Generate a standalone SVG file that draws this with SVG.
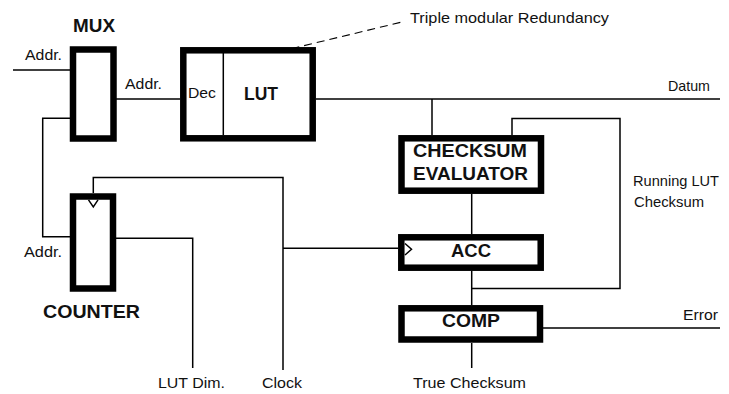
<svg xmlns="http://www.w3.org/2000/svg" width="729" height="394" viewBox="0 0 729 394">
<defs>
<style>
.box{fill:#fff;stroke:#000;stroke-width:6.5}
.ln{fill:none;stroke:#000;stroke-width:1.5}
.dash{fill:none;stroke:#000;stroke-width:1.1;stroke-dasharray:8 5}
.t{font-family:"Liberation Sans",Arial,sans-serif;font-size:15px;fill:#111}
.b{font-family:"Liberation Sans",Arial,sans-serif;font-size:19px;font-weight:bold;fill:#111}
</style>
</defs>
<rect width="729" height="394" fill="#fff"/>
<g id="connectors">
<path class="ln" d="M13,70 H70"/>
<path class="ln" d="M116,99 H180"/>
<path class="ln" d="M316,99 H720"/>
<path class="ln" d="M432,99 V135"/>
<path class="ln" d="M512,135 V118.5 H620 V288.5 H471.7"/>
<path class="ln" d="M471.7,194 V234"/>
<path class="ln" d="M471.7,271 V305"/>
<path class="ln" d="M471.7,343 V368"/>
<path class="ln" d="M543,328 H720"/>
<path class="ln" d="M93.3,193 V177.5 H283 V370"/>
<path class="ln" d="M283,248.3 H398"/>
<path class="ln" d="M70,118.3 H42.7 V236.7 H70"/>
<path class="ln" d="M116,238.3 H192.7 V368"/>
<path class="dash" d="M203,70 L402,22"/>
</g>
<g id="mux">
<rect class="box" x="73" y="49.5" width="40.5" height="89"/>
<text class="b" x="73" y="32" font-size="20" textLength="42" lengthAdjust="spacingAndGlyphs">MUX</text>
</g>
<g id="lut">
<rect class="box" x="183.3" y="50.3" width="129.4" height="88"/>
<path class="ln" d="M223.3,53 V135"/>
<text class="t" x="188" y="98" textLength="28" lengthAdjust="spacingAndGlyphs">Dec</text>
<text class="b" x="244" y="100" font-size="20" textLength="34" lengthAdjust="spacingAndGlyphs">LUT</text>
</g>
<g id="counter">
<rect class="box" x="73" y="196.5" width="40" height="92"/>
<path class="ln" d="M88.5,199.8 L93.3,207 L98,199.8"/>
<text class="b" x="43" y="318" textLength="97" lengthAdjust="spacingAndGlyphs">COUNTER</text>
</g>
<g id="checksum-evaluator">
<rect class="box" x="401.5" y="138.3" width="139.5" height="52.4"/>
<text class="b" x="413" y="157" font-size="20" textLength="114" lengthAdjust="spacingAndGlyphs">CHECKSUM</text>
<text class="b" x="413" y="180" font-size="20" textLength="115" lengthAdjust="spacingAndGlyphs">EVALUATOR</text>
</g>
<g id="acc">
<rect class="box" x="401.3" y="237.3" width="139.4" height="30.4"/>
<path class="ln" d="M405,243.5 L411.5,249.3 L405,255"/>
<text class="b" x="451" y="257" textLength="40" lengthAdjust="spacingAndGlyphs">ACC</text>
</g>
<g id="comp">
<rect class="box" x="401.5" y="308.3" width="138.5" height="31.2"/>
<text class="b" x="442" y="327" textLength="58" lengthAdjust="spacingAndGlyphs">COMP</text>
</g>
<g id="labels">
<text class="t" x="25" y="60" textLength="37" lengthAdjust="spacingAndGlyphs">Addr.</text>
<text class="t" x="125" y="89" textLength="37" lengthAdjust="spacingAndGlyphs">Addr.</text>
<text class="t" x="410" y="22.5" textLength="199" lengthAdjust="spacingAndGlyphs">Triple modular Redundancy</text>
<text class="t" x="668" y="90.5" textLength="42" lengthAdjust="spacingAndGlyphs">Datum</text>
<text class="t" x="633" y="186" textLength="86" lengthAdjust="spacingAndGlyphs">Running LUT</text>
<text class="t" x="634" y="206.5" textLength="70" lengthAdjust="spacingAndGlyphs">Checksum</text>
<text class="t" x="683" y="320" textLength="35" lengthAdjust="spacingAndGlyphs">Error</text>
<text class="t" x="413" y="387.7" textLength="113" lengthAdjust="spacingAndGlyphs">True Checksum</text>
<text class="t" x="24" y="257" textLength="38" lengthAdjust="spacingAndGlyphs">Addr.</text>
<text class="t" x="158" y="388" textLength="67" lengthAdjust="spacingAndGlyphs">LUT Dim.</text>
<text class="t" x="262" y="388" textLength="40" lengthAdjust="spacingAndGlyphs">Clock</text>
</g>
</svg>
